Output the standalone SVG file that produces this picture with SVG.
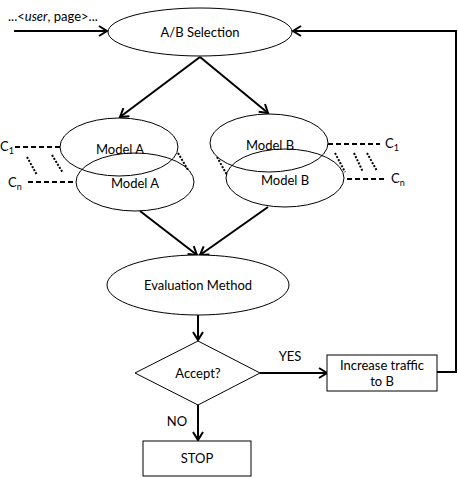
<svg xmlns="http://www.w3.org/2000/svg" width="458" height="478" viewBox="0 0 458 478">
<style>
text{font-family:Lato,"Open Sans","Liberation Sans",sans-serif;font-size:13px;fill:#000}
.c{text-anchor:middle}
.n{fill:#fff;stroke:#000;stroke-width:1}
.e{fill:none;stroke:#000;stroke-width:2}
.d{fill:none;stroke:#000;stroke-width:2;stroke-dasharray:5 3}
.t{fill:none;stroke:#000;stroke-width:2;stroke-dasharray:2 1.5}
.s{font-size:9px}
</style>
<defs>
<marker id="ah" markerWidth="12" markerHeight="12" refX="10" refY="6" orient="auto" markerUnits="userSpaceOnUse">
<path d="M2,1 L10,6 L2,11" fill="none" stroke="#000" stroke-width="2"/>
</marker>
</defs>
<g id="connectors">
<line class="e" x1="14" y1="31" x2="107" y2="31" marker-end="url(#ah)"/>
<polyline class="e" points="437,372 456,372 456,31 293,31" marker-end="url(#ah)"/>
<line class="e" x1="200" y1="57" x2="120" y2="117" marker-end="url(#ah)"/>
<line class="e" x1="200" y1="57" x2="268" y2="113" marker-end="url(#ah)"/>
<line class="e" x1="140" y1="211" x2="197" y2="255" marker-end="url(#ah)"/>
<line class="e" x1="268" y1="207" x2="200" y2="255" marker-end="url(#ah)"/>
<line class="e" x1="198" y1="314" x2="198" y2="340" marker-end="url(#ah)"/>
<line class="e" x1="260" y1="373" x2="327" y2="373" marker-end="url(#ah)"/>
<line class="e" x1="198" y1="405" x2="198" y2="440" marker-end="url(#ah)"/>
<line class="d" x1="15" y1="147" x2="60" y2="147"/>
<line class="d" x1="28" y1="182" x2="76" y2="182"/>
<line class="t" x1="27" y1="157" x2="37" y2="175"/>
<line class="t" x1="52" y1="155" x2="63" y2="173"/>
<line class="t" x1="178" y1="153" x2="188" y2="170"/>
<line class="t" x1="217" y1="157" x2="227" y2="175"/>
<line class="t" x1="335" y1="153" x2="345" y2="172"/>
<line class="t" x1="354" y1="153" x2="363" y2="172"/>
<line class="t" x1="367" y1="153" x2="377" y2="171"/>
<line class="d" x1="328" y1="144" x2="380" y2="144"/>
<line class="d" x1="347" y1="179" x2="387" y2="179"/>
</g>
<text x="8" y="21">...&lt;<tspan font-style="italic">user</tspan>, page&gt;...</text>
<text x="0" y="151">C<tspan class="s" dy="3">1</tspan></text>
<text x="8" y="187">C<tspan class="s" dy="3">n</tspan></text>
<text x="385" y="148">C<tspan class="s" dy="3">1</tspan></text>
<text x="391" y="183">C<tspan class="s" dy="3">n</tspan></text>
<g id="ab-selection">
<ellipse class="n" cx="200" cy="32" rx="92" ry="24"/>
<text class="c" x="200" y="37">A/B Selection</text>
</g>
<g id="model-a-1">
<ellipse class="n" cx="119" cy="147" rx="59" ry="29"/>
<text class="c" x="120" y="154">Model A</text>
</g>
<g id="model-a-2">
<ellipse class="n" cx="135" cy="182" rx="59" ry="29" fill-opacity="0"/>
<text class="c" x="135" y="188">Model A</text>
</g>
<g id="model-b-1">
<ellipse class="n" cx="269" cy="143" rx="59" ry="29"/>
<text class="c" x="270" y="150">Model B</text>
</g>
<g id="model-b-2">
<ellipse class="n" cx="285" cy="178" rx="59" ry="29" fill-opacity="0"/>
<text class="c" x="285" y="185">Model B</text>
</g>
<g id="evaluation">
<ellipse class="n" cx="198" cy="285" rx="91" ry="30"/>
<text class="c" x="198" y="290">Evaluation Method</text>
</g>
<g id="accept">
<polygon class="n" points="198,341 260,373 198,405 135,373"/>
<text class="c" x="198" y="378">Accept?</text>
</g>
<text class="c" x="290" y="361">YES</text>
<text class="c" x="177" y="426">NO</text>
<g id="increase">
<rect class="n" x="327" y="355" width="110" height="36"/>
<text class="c" x="382" y="370">Increase traffic</text>
<text class="c" x="382" y="386">to B</text>
</g>
<g id="stop">
<rect class="n" x="143" y="441" width="108" height="35"/>
<text class="c" x="197" y="463">STOP</text>
</g>
</svg>
